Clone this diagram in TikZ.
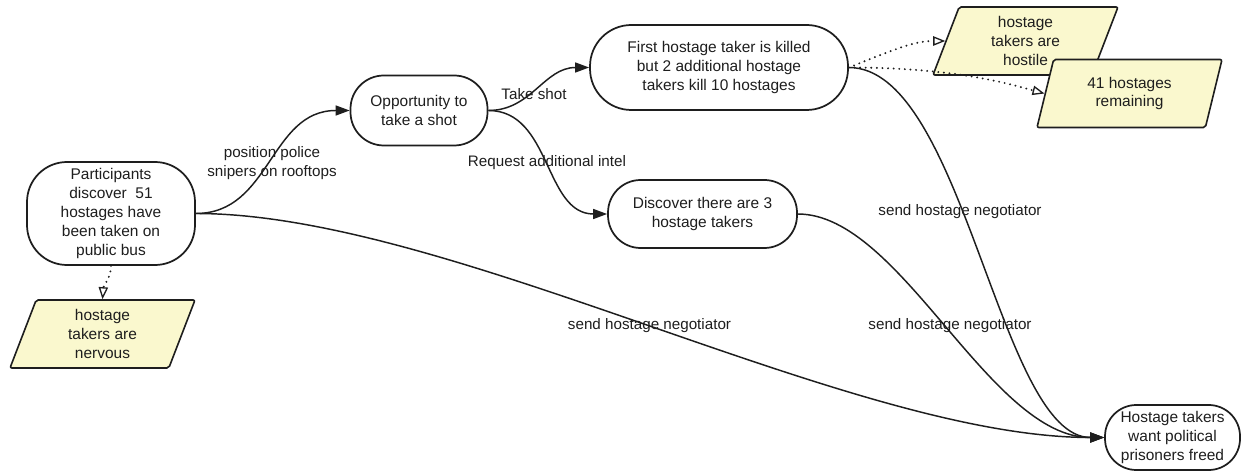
\documentclass[tikz,border=0pt]{standalone}
\usepackage{fontspec}
\setmainfont{Liberation Sans}
\usetikzlibrary{arrows.meta,shapes.geometric}
\definecolor{notefill}{RGB}{250,248,206}
\definecolor{ink}{RGB}{30,30,30}
\tikzset{
  stage/.style={draw=ink, line width=1.3pt, fill=white, align=center, inner sep=0pt,
    font=\fontsize{11.6}{14.2}\selectfont, text=ink},
  note/.style={draw=ink, line width=1.2pt, fill=notefill, align=center, inner sep=0pt,
    trapezium, trapezium left angle=62, trapezium right angle=118,
    trapezium stretches body=true, rounded corners=1.5pt,
    minimum width=138.75pt, minimum height=51pt,
    font=\fontsize{11.6}{14.2}\selectfont, text=ink},
  flow/.style={draw=ink, line width=1.1pt, -{Triangle[length=10.5pt,width=7.5pt]}},
  hint/.style={draw=ink, line width=1.6pt, dash pattern=on 0pt off 4.2pt, line cap=round,
    -{Triangle[open,length=9pt,width=7pt,line width=1pt,sep=0pt]}},
  lbl/.style={font=\fontsize{11.4}{14}\selectfont, text=ink, align=center, inner sep=0pt}
}
\begin{document}
\begin{tikzpicture}[x=0.75pt, y=-0.75pt]
\useasboundingbox[fill=white] (0,0) rectangle (1241,473);

% event boxes
\node[stage, minimum width=126pt, minimum height=77.25pt, rounded corners=30pt]
  (part) at (111,213.5) {Participants\\discover\ \ 51\\hostages have\\been taken on\\public bus};
\node[stage, minimum width=102.75pt, minimum height=52.5pt, rounded corners=25pt]
  (opp) at (419,110.5) {Opportunity to\\take a shot};
\node[stage, minimum width=193.5pt, minimum height=63.75pt, rounded corners=31pt]
  (first) at (719,67.5) {First hostage taker is killed\\but 2 additional hostage\\takers kill 10 hostages};
\node[stage, minimum width=141.75pt, minimum height=51pt, rounded corners=24.5pt]
  (disc) at (702.5,214) {Discover there are 3\\hostage takers};
\node[stage, minimum width=101.25pt, minimum height=48.75pt, rounded corners=23.5pt]
  (want) at (1172.5,437.5) {Hostage takers\\want political\\prisoners freed};

% state notes
\node[note] (nerv) at (102.5,334) {hostage\\takers are\\nervous};
\node[note] (hostile) at (1025.5,41) {hostage\\takers are\\hostile};

% main flow
\draw[flow] (part.east) .. controls +(75,0) and +(-80,0) .. (opp.west);
\draw[flow] (part.east) .. controls +(255,0) and +(-255,0) .. (want.west);
\draw[flow] (opp.east) .. controls +(43,0) and +(-45,0) .. (first.west);
\draw[flow] (opp.east) .. controls +(63,0) and +(-63,0) .. (disc.west);
\draw[flow] (first.east) .. controls +(115,0) and +(-105,0) .. (want.west);
\draw[flow] (disc.east) .. controls +(103,0) and +(-115,0) .. (want.west);

% state links
\draw[hint] (part.south) .. controls +(0,12) and +(1,-14) .. (nerv.north);
\draw[hint] (first.east) .. controls +(50,-20) and +(-30,0) .. (hostile.west);

\node[note, trapezium left angle=63.5, trapezium right angle=116.5] (rem) at (1129.5,93.5) {41 hostages\\remaining};
\draw[hint] (first.east) .. controls +(110,0) and +(-30,-8) .. (rem.west);

% edge labels
\node[lbl] (l1) at (272,163) {position police\\snipers on rooftops};
\node[lbl] (l2) at (534,94) {Take shot};
\node[lbl] (l3) at (547,163) {Request additional intel};
\node[lbl] (l4) at (649.5,326) {send hostage negotiator};
\node[lbl] (l5) at (960,212) {send hostage negotiator};
\node[lbl] (l6) at (950,326) {send hostage negotiator};
\end{tikzpicture}
\end{document}
